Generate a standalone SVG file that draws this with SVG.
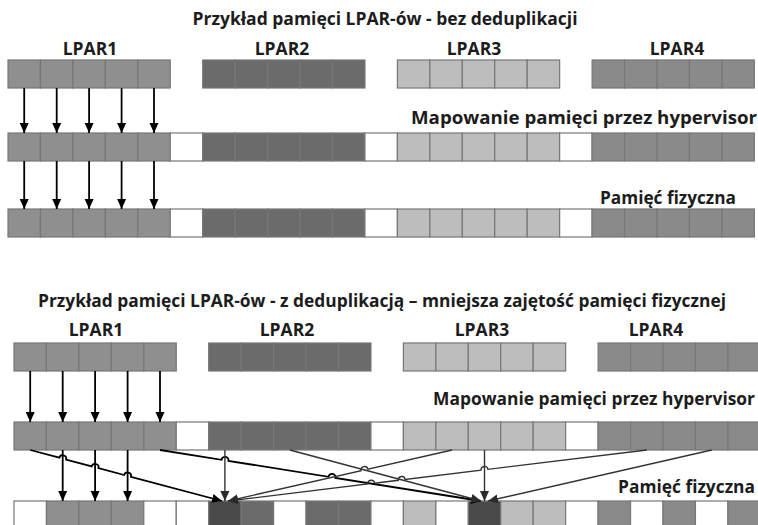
<svg xmlns="http://www.w3.org/2000/svg" xmlns:xlink="http://www.w3.org/1999/xlink" width="758" height="525" viewBox="0 0 758 525">
<style>
.t{font-family:"Open Sans","Liberation Sans",sans-serif;font-weight:700;fill:#1c1c1c}
use{stroke:#777;stroke-width:1.2}
.w{fill:#fff}.a{fill:#8f8f8f}.b{fill:#6b6b6b}.c{fill:#bdbdbd}.d{fill:#8a8a8a}.x{fill:#4a4a4a}
.k{stroke:#000;stroke-width:1.8;fill:none}
.g{stroke:#333;stroke-width:1.4;fill:none}
</style>
<defs>
<rect id="c" width="32.45" height="28"/>
<marker id="ak" viewBox="0 0 10 10" refX="10" refY="5" markerWidth="10" markerHeight="10" markerUnits="userSpaceOnUse" orient="auto"><path d="M0,0.5L10,5L0,9.5z" fill="#000"/></marker>
<marker id="ag" viewBox="0 0 10 10" refX="10" refY="5" markerWidth="10" markerHeight="10" markerUnits="userSpaceOnUse" orient="auto"><path d="M0,0.5L10,5L0,9.5z" fill="#2a2a2a"/></marker>
</defs>

<!-- TOP SECTION -->
<g id="top-labels">
<text class="t" x="385" y="25" font-size="17" text-anchor="middle" textLength="385" lengthAdjust="spacingAndGlyphs">Przykład pamięci LPAR-ów - bez deduplikacji</text>
<text class="t" x="90" y="55" font-size="17.5" text-anchor="middle">LPAR1</text>
<text class="t" x="282" y="55" font-size="17.5" text-anchor="middle">LPAR2</text>
<text class="t" x="474" y="55" font-size="17.5" text-anchor="middle">LPAR3</text>
<text class="t" x="677" y="55" font-size="17.5" text-anchor="middle">LPAR4</text>
<text class="t" x="411" y="124" font-size="18.5" textLength="346" lengthAdjust="spacingAndGlyphs">Mapowanie pamięci przez hypervisor</text>
<text class="t" x="600" y="204" font-size="17.5" textLength="136" lengthAdjust="spacingAndGlyphs">Pamięć fizyczna</text>
</g>
<g id="top-lpar1"><use href="#c" class="a" x="8" y="60"/><use href="#c" class="a" x="40.45" y="60"/><use href="#c" class="a" x="72.9" y="60"/><use href="#c" class="a" x="105.35" y="60"/><use href="#c" class="a" x="137.8" y="60"/></g>
<g id="top-lpar2"><use href="#c" class="b" x="202.7" y="60"/><use href="#c" class="b" x="235.15" y="60"/><use href="#c" class="b" x="267.6" y="60"/><use href="#c" class="b" x="300.05" y="60"/><use href="#c" class="b" x="332.5" y="60"/></g>
<g id="top-lpar3"><use href="#c" class="c" x="397.4" y="60"/><use href="#c" class="c" x="429.85" y="60"/><use href="#c" class="c" x="462.3" y="60"/><use href="#c" class="c" x="494.75" y="60"/><use href="#c" class="c" x="527.2" y="60"/></g>
<g id="top-lpar4"><use href="#c" class="d" x="592.1" y="60"/><use href="#c" class="d" x="624.55" y="60"/><use href="#c" class="d" x="657" y="60"/><use href="#c" class="d" x="689.45" y="60"/><use href="#c" class="d" x="721.9" y="60"/></g>
<g id="top-hypervisor">
<use href="#c" class="a" x="8" y="133"/><use href="#c" class="a" x="40.45" y="133"/><use href="#c" class="a" x="72.9" y="133"/><use href="#c" class="a" x="105.35" y="133"/><use href="#c" class="a" x="137.8" y="133"/><use href="#c" class="w" x="170.25" y="133"/>
<use href="#c" class="b" x="202.7" y="133"/><use href="#c" class="b" x="235.15" y="133"/><use href="#c" class="b" x="267.6" y="133"/><use href="#c" class="b" x="300.05" y="133"/><use href="#c" class="b" x="332.5" y="133"/><use href="#c" class="w" x="364.95" y="133"/>
<use href="#c" class="c" x="397.4" y="133"/><use href="#c" class="c" x="429.85" y="133"/><use href="#c" class="c" x="462.3" y="133"/><use href="#c" class="c" x="494.75" y="133"/><use href="#c" class="c" x="527.2" y="133"/><use href="#c" class="w" x="559.65" y="133"/>
<use href="#c" class="d" x="592.1" y="133"/><use href="#c" class="d" x="624.55" y="133"/><use href="#c" class="d" x="657" y="133"/><use href="#c" class="d" x="689.45" y="133"/><use href="#c" class="d" x="721.9" y="133"/>
</g>
<g id="top-physical">
<use href="#c" class="a" x="8" y="209"/><use href="#c" class="a" x="40.45" y="209"/><use href="#c" class="a" x="72.9" y="209"/><use href="#c" class="a" x="105.35" y="209"/><use href="#c" class="a" x="137.8" y="209"/><use href="#c" class="w" x="170.25" y="209"/>
<use href="#c" class="b" x="202.7" y="209"/><use href="#c" class="b" x="235.15" y="209"/><use href="#c" class="b" x="267.6" y="209"/><use href="#c" class="b" x="300.05" y="209"/><use href="#c" class="b" x="332.5" y="209"/><use href="#c" class="w" x="364.95" y="209"/>
<use href="#c" class="c" x="397.4" y="209"/><use href="#c" class="c" x="429.85" y="209"/><use href="#c" class="c" x="462.3" y="209"/><use href="#c" class="c" x="494.75" y="209"/><use href="#c" class="c" x="527.2" y="209"/><use href="#c" class="w" x="559.65" y="209"/>
<use href="#c" class="d" x="592.1" y="209"/><use href="#c" class="d" x="624.55" y="209"/><use href="#c" class="d" x="657" y="209"/><use href="#c" class="d" x="689.45" y="209"/><use href="#c" class="d" x="721.9" y="209"/>
</g>
<g id="top-connectors">
<path class="k" marker-end="url(#ak)" d="M24.2,88V133"/><path class="k" marker-end="url(#ak)" d="M56.7,88V133"/><path class="k" marker-end="url(#ak)" d="M89.1,88V133"/><path class="k" marker-end="url(#ak)" d="M121.6,88V133"/><path class="k" marker-end="url(#ak)" d="M154,88V133"/>
<path class="k" marker-end="url(#ak)" d="M24.2,161V209"/><path class="k" marker-end="url(#ak)" d="M56.7,161V209"/><path class="k" marker-end="url(#ak)" d="M89.1,161V209"/><path class="k" marker-end="url(#ak)" d="M121.6,161V209"/><path class="k" marker-end="url(#ak)" d="M154,161V209"/>
</g>

<!-- BOTTOM SECTION -->
<g id="bottom-labels">
<text class="t" x="38" y="307" font-size="17" textLength="688" lengthAdjust="spacingAndGlyphs">Przykład pamięci LPAR-ów - z deduplikacją – mniejsza zajętość pamięci fizycznej</text>
<text class="t" x="96" y="336" font-size="17.5" text-anchor="middle">LPAR1</text>
<text class="t" x="287" y="336" font-size="17.5" text-anchor="middle">LPAR2</text>
<text class="t" x="482" y="336" font-size="17.5" text-anchor="middle">LPAR3</text>
<text class="t" x="656" y="336" font-size="17.5" text-anchor="middle">LPAR4</text>
<text class="t" x="433" y="405" font-size="17.5" textLength="322" lengthAdjust="spacingAndGlyphs">Mapowanie pamięci przez hypervisor</text>
<text class="t" x="618" y="493" font-size="17.5" textLength="137" lengthAdjust="spacingAndGlyphs">Pamięć fizyczna</text>
</g>
<g id="bottom-lpar1"><use href="#c" class="a" x="14" y="343"/><use href="#c" class="a" x="46.45" y="343"/><use href="#c" class="a" x="78.9" y="343"/><use href="#c" class="a" x="111.35" y="343"/><use href="#c" class="a" x="143.8" y="343"/></g>
<g id="bottom-lpar2"><use href="#c" class="b" x="208.7" y="343"/><use href="#c" class="b" x="241.15" y="343"/><use href="#c" class="b" x="273.6" y="343"/><use href="#c" class="b" x="306.05" y="343"/><use href="#c" class="b" x="338.5" y="343"/></g>
<g id="bottom-lpar3"><use href="#c" class="c" x="403.4" y="343"/><use href="#c" class="c" x="435.85" y="343"/><use href="#c" class="c" x="468.3" y="343"/><use href="#c" class="c" x="500.75" y="343"/><use href="#c" class="c" x="533.2" y="343"/></g>
<g id="bottom-lpar4"><use href="#c" class="d" x="598.1" y="343"/><use href="#c" class="d" x="630.55" y="343"/><use href="#c" class="d" x="663" y="343"/><use href="#c" class="d" x="695.45" y="343"/><use href="#c" class="d" x="727.9" y="343"/></g>
<g id="bottom-hypervisor">
<use href="#c" class="a" x="14" y="422"/><use href="#c" class="a" x="46.45" y="422"/><use href="#c" class="a" x="78.9" y="422"/><use href="#c" class="a" x="111.35" y="422"/><use href="#c" class="a" x="143.8" y="422"/><use href="#c" class="w" x="176.25" y="422"/>
<use href="#c" class="b" x="208.7" y="422"/><use href="#c" class="b" x="241.15" y="422"/><use href="#c" class="b" x="273.6" y="422"/><use href="#c" class="b" x="306.05" y="422"/><use href="#c" class="b" x="338.5" y="422"/><use href="#c" class="w" x="370.95" y="422"/>
<use href="#c" class="c" x="403.4" y="422"/><use href="#c" class="c" x="435.85" y="422"/><use href="#c" class="c" x="468.3" y="422"/><use href="#c" class="c" x="500.75" y="422"/><use href="#c" class="c" x="533.2" y="422"/><use href="#c" class="w" x="565.65" y="422"/>
<use href="#c" class="d" x="598.1" y="422"/><use href="#c" class="d" x="630.55" y="422"/><use href="#c" class="d" x="663" y="422"/><use href="#c" class="d" x="695.45" y="422"/><use href="#c" class="d" x="727.9" y="422"/>
</g>
<g id="bottom-physical">
<use href="#c" class="w" x="14" y="501"/><use href="#c" class="a" x="46.45" y="501"/><use href="#c" class="a" x="78.9" y="501"/><use href="#c" class="a" x="111.35" y="501"/><use href="#c" class="w" x="143.8" y="501"/><use href="#c" class="w" x="176.25" y="501"/>
<use href="#c" class="x" x="208.7" y="501"/><use href="#c" class="b" x="241.15" y="501"/><use href="#c" class="w" x="273.6" y="501"/><use href="#c" class="b" x="306.05" y="501"/><use href="#c" class="b" x="338.5" y="501"/><use href="#c" class="w" x="370.95" y="501"/>
<use href="#c" class="c" x="403.4" y="501"/><use href="#c" class="w" x="435.85" y="501"/><use href="#c" class="x" x="468.3" y="501"/><use href="#c" class="c" x="500.75" y="501"/><use href="#c" class="c" x="533.2" y="501"/><use href="#c" class="w" x="565.65" y="501"/>
<use href="#c" class="d" x="598.1" y="501"/><use href="#c" class="w" x="630.55" y="501"/><use href="#c" class="d" x="663" y="501"/><use href="#c" class="w" x="695.45" y="501"/><use href="#c" class="d" x="727.9" y="501"/>
</g>
<g id="bottom-connectors">
<path class="k" marker-end="url(#ak)" d="M30.2,371V422"/><path class="k" marker-end="url(#ak)" d="M62.7,371V422"/><path class="k" marker-end="url(#ak)" d="M95.1,371V422"/><path class="k" marker-end="url(#ak)" d="M127.6,371V422"/><path class="k" marker-end="url(#ak)" d="M160,371V422"/>
<path class="k" marker-end="url(#ak)" d="M62.7,450V501"/><path class="k" marker-end="url(#ak)" d="M95.1,450V501"/><path class="k" marker-end="url(#ak)" d="M127.6,450V501"/>
<path class="k" marker-end="url(#ak)" d="M30.2,450L59.32,457.74A3.5,3.5 0 0 1 66.08,459.54L91.72,466.36A3.5,3.5 0 0 1 98.48,468.16L124.22,475A3.5,3.5 0 0 1 130.98,476.8L222,501"/>
<path class="k" marker-end="url(#ak)" d="M160,450L221.54,459.78A3.5,3.5 0 0 1 228.46,460.88L328.52,476.78A3.5,3.5 0 0 1 335.44,477.88L481,501"/>
<path class="g" marker-end="url(#ag)" d="M224.9,450V501"/>
<path class="g" marker-end="url(#ag)" d="M289.8,450L481,501"/>
<path class="g" marker-end="url(#ag)" d="M452.1,450L367.91,469.14A3.5,3.5 0 0 0 361.09,470.7L228,501"/>
<path class="g" marker-end="url(#ag)" d="M484.5,450V501"/>
<path class="g" marker-end="url(#ag)" d="M646.8,450L487.97,469.34A3.5,3.5 0 0 0 481.03,470.18L405.19,479.43A3.5,3.5 0 0 0 398.25,480.27L374.67,483.14A3.5,3.5 0 0 0 367.73,483.98L228,501"/>
<path class="g" marker-end="url(#ag)" d="M711.7,450L488,501"/>
</g>
</svg>
